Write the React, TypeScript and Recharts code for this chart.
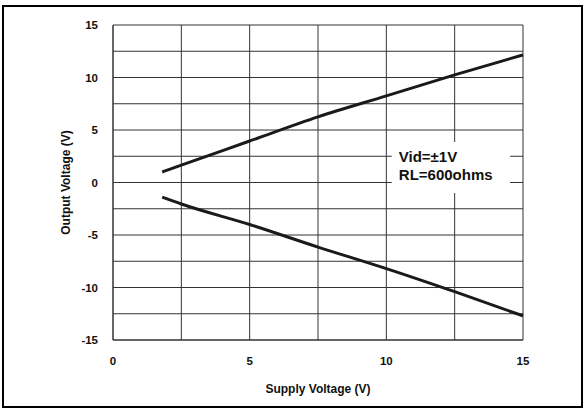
import React from 'react';
import { LineChart, Line, XAxis, YAxis, CartesianGrid, ReferenceArea } from 'recharts';

const supplyVoltage = [1.8, 2.5, 5, 7.5, 10, 12.5, 15];
const outputHigh = [1.0, 1.65, 3.95, 6.25, 8.25, 10.25, 12.15];
const outputLow = [-1.4, -2.05, -4.0, -6.15, -8.2, -10.4, -12.7];

const xTicks = [0, 2.5, 5, 7.5, 10, 12.5, 15];
const xLabeledTicks = [0, 5, 10, 15];
const yTicks = [-15, -12.5, -10, -7.5, -5, -2.5, 0, 2.5, 5, 7.5, 10, 12.5, 15];
const yLabeledTicks = [-15, -10, -5, 0, 5, 10, 15];

const noteLines = ['Vid=\u00b11V', 'RL=600ohms'];
const noteBoxX = [10.2, 14.53];
const noteBoxY = [-1.0, 3.86];

const xTitle = 'Supply Voltage (V)';
const yTitle = 'Output Voltage (V)';

const rows = supplyVoltage.map((v, i) => ({ v, hi: outputHigh[i], lo: outputLow[i] }));

const FONT = '"Liberation Sans", Arial, Helvetica, sans-serif';
const tickStyle = { fill: '#111', fontSize: 11.5, fontWeight: 'bold', fontFamily: FONT };

const renderYTitle = (props: any) => {
  const vb = props.viewBox || {};
  const cx = vb.x + 3;
  const cy = vb.y + vb.height / 2;
  return (
    <text
      x={cx}
      y={cy}
      transform={`rotate(-90, ${cx}, ${cy})`}
      textAnchor="middle"
      dominantBaseline="central"
      fill="#111"
      fontSize={12}
      fontWeight="bold"
      fontFamily={FONT}
    >
      {yTitle}
    </text>
  );
};

const renderNote = (props: any) => {
  const vb = props.viewBox || {};
  return (
    <g>
      {noteLines.map((t, i) => (
        <text
          key={t}
          x={vb.x + 7}
          y={vb.y + 20 + i * 18}
          fill="#111"
          fontSize={15}
          fontWeight="bold"
          fontFamily={FONT}
        >
          {t}
        </text>
      ))}
    </g>
  );
};

export default function App() {
  return (
    <div style={{ position: 'absolute', left: 0, top: 0, width: 584, height: 410, background: '#fff' }}>
      <div
        style={{
          position: 'absolute',
          left: 2,
          top: 5,
          width: 577,
          height: 399,
          border: '2px solid #000',
        }}
      />
      <div style={{ position: 'absolute', left: 0, top: 0 }}>
        <LineChart width={584} height={410} data={rows} margin={{ top: 25, right: 61, bottom: 40, left: 63 }}>
          <CartesianGrid stroke="#333" strokeWidth={1} />
          <XAxis
            dataKey="v"
            type="number"
            domain={[0, 15]}
            ticks={xTicks}
            interval={0}
            tickFormatter={(t: number) => (xLabeledTicks.includes(t) ? String(t) : '')}
            tick={tickStyle}
            tickSize={0}
            tickMargin={17}
            axisLine={{ stroke: '#333' }}
            height={30}
            label={{
              value: xTitle,
              position: 'bottom',
              offset: 14,
              fill: '#111',
              fontSize: 12,
              fontWeight: 'bold',
              fontFamily: FONT,
            }}
          />
          <YAxis
            type="number"
            domain={[-15, 15]}
            ticks={yTicks}
            interval={0}
            tickFormatter={(t: number) => (yLabeledTicks.includes(t) ? String(t) : '')}
            tick={tickStyle}
            tickSize={0}
            tickMargin={15}
            axisLine={{ stroke: '#333' }}
            width={50}
            label={renderYTitle}
          />
          <ReferenceArea
            x1={noteBoxX[0]}
            x2={noteBoxX[1]}
            y1={noteBoxY[0]}
            y2={noteBoxY[1]}
            fill="#fff"
            fillOpacity={1}
            stroke="none"
            label={renderNote}
          />
          <Line
            type="monotone"
            dataKey="hi"
            stroke="#1a1a1a"
            strokeWidth={3}
            dot={false}
            isAnimationActive={false}
          />
          <Line
            type="monotone"
            dataKey="lo"
            stroke="#1a1a1a"
            strokeWidth={3}
            dot={false}
            isAnimationActive={false}
          />
        </LineChart>
      </div>
    </div>
  );
}
